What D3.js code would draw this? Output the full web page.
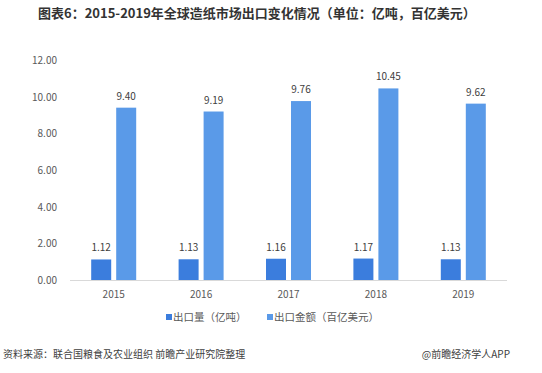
<!DOCTYPE html>
<html>
<head>
<meta charset="utf-8">
<script src="https://cdn.jsdelivr.net/npm/d3@7"></script>
<style>
  body { margin: 0; background: #fff; }
  svg text { font-family: "Noto Sans CJK SC", "DejaVu Sans", sans-serif; }
</style>
</head>
<body>
<div id="chart"></div>
<script>
// Chart data
const years = ['2015', '2016', '2017', '2018', '2019'];
const volume = [1.12, 1.13, 1.16, 1.17, 1.13];   // 出口量（亿吨）
const amount = [9.40, 9.19, 9.76, 10.45, 9.62];  // 出口金额（百亿美元）
const yTicks = [0, 2, 4, 6, 8, 10, 12];
const seriesNames = ['出口量（亿吨）', '出口金额（百亿美元）'];

const W = 542, H = 373;
const colors = ['#3B7DDD', '#5A9AE8'];

const svg = d3.select('#chart').append('svg')
  .attr('width', W).attr('height', H);

// Title
svg.append('text')
  .attr('x', 38).attr('y', 18)
  .attr('font-size', 13).attr('font-weight', 'bold')
  .attr('fill', '#333')
  .text('图表6：2015-2019年全球造纸市场出口变化情况（单位：亿吨，百亿美元）');

// Scales
const x = d3.scaleBand().domain(years).range([70, 507]);
const y = d3.scaleLinear().domain([0, 12]).range([280, 60]);
const barW = 20, gap = 5;

// Y axis labels (no gridlines)
svg.append('g').selectAll('text')
  .data(yTicks).join('text')
  .attr('x', 57).attr('y', d => y(d) + 4)
  .attr('text-anchor', 'end')
  .attr('font-size', 10).attr('fill', '#595959')
  .text(d => d.toFixed(2));

// Baseline
svg.append('line')
  .attr('x1', 70).attr('x2', 507)
  .attr('y1', y(0) + 0.5).attr('y2', y(0) + 0.5)
  .attr('stroke', '#d9d9d9');

// Bars
const series = [volume, amount];
series.forEach((vals, si) => {
  const g = svg.append('g');
  const offset = si === 0 ? -(barW + gap / 2) : gap / 2;
  g.selectAll('rect').data(vals).join('rect')
    .attr('x', (d, i) => x(years[i]) + x.bandwidth() / 2 + offset)
    .attr('y', d => y(d))
    .attr('width', barW)
    .attr('height', d => y(0) - y(d))
    .attr('fill', colors[si]);
  g.selectAll('text').data(vals).join('text')
    .attr('x', (d, i) => x(years[i]) + x.bandwidth() / 2 + offset + barW / 2)
    .attr('y', d => y(d) - 8)
    .attr('text-anchor', 'middle')
    .attr('font-size', 10).attr('fill', '#404040')
    .text(d => d.toFixed(2));
});

// X axis labels
svg.append('g').selectAll('text')
  .data(years).join('text')
  .attr('x', d => x(d) + x.bandwidth() / 2)
  .attr('y', 298)
  .attr('text-anchor', 'middle')
  .attr('font-size', 10).attr('fill', '#595959')
  .text(d => d);

// Legend
const legendX = [166, 267];
seriesNames.forEach((name, i) => {
  svg.append('rect')
    .attr('x', legendX[i]).attr('y', 314)
    .attr('width', 6).attr('height', 6)
    .attr('fill', colors[i]);
  svg.append('text')
    .attr('x', legendX[i] + 7).attr('y', 321)
    .attr('font-size', 10.5).attr('fill', '#595959')
    .text(name);
});

// Footer
svg.append('text')
  .attr('x', 3).attr('y', 358)
  .attr('font-size', 10).attr('fill', '#404040')
  .text('资料来源：联合国粮食及农业组织 前瞻产业研究院整理');
svg.append('text')
  .attr('x', 510).attr('y', 358)
  .attr('text-anchor', 'end')
  .attr('font-size', 10).attr('fill', '#404040')
  .text('@前瞻经济学人APP');
</script>
</body>
</html>
